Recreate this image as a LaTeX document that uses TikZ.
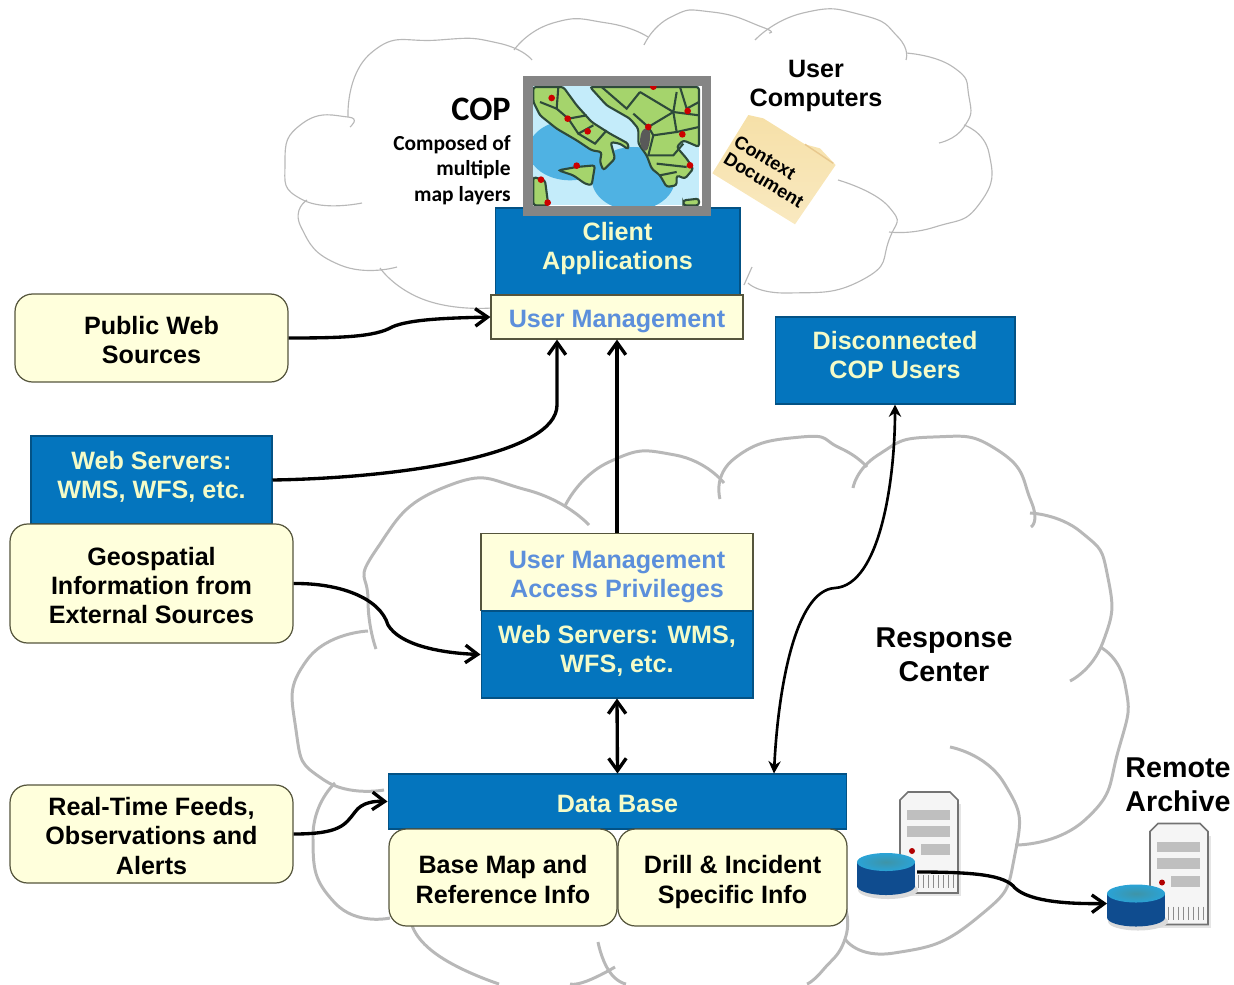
\documentclass[tikz,border=0pt]{standalone}
\usepackage{fontspec}
\setmainfont{Liberation Sans}
\newfontfamily\copfont{Carlito}
\usetikzlibrary{arrows.meta}
\definecolor{boxblue}{HTML}{0475BE}
\definecolor{boxcream}{HTML}{FFFFDC}
\definecolor{boxedge}{HTML}{55553C}
\definecolor{paleink}{HTML}{F4FBC8}
\definecolor{mgmtink}{HTML}{5C8FDB}
\definecolor{cloudgray}{HTML}{B8B8B8}
\definecolor{landgreen}{HTML}{A5D46C}
\definecolor{landedge}{HTML}{2E4A3A}
\definecolor{seapale}{HTML}{C4ECFA}
\definecolor{seadeep}{HTML}{4FB2E3}
\definecolor{folderfill}{HTML}{F6E0A8}
\definecolor{folderpale}{HTML}{F9E9C0}
\definecolor{diskbody}{HTML}{0F4C8F}
\definecolor{disktop}{HTML}{2AA3D6}
\definecolor{diskcore}{HTML}{3E94A8}
\pgfdeclareradialshading{seaglow}{\pgfpointorigin}{color(0bp)=(seadeep); color(25bp)=(seadeep); color(48bp)=(seapale); color(50bp)=(seapale)}
\newcommand{\lowstrut}{\rule[-3pt]{0pt}{18.5pt}}
\newcommand{\highstrut}{\rule[-6pt]{0pt}{16.6pt}}
\newcommand{\servertower}[3]{
    \begin{scope}[shift={(#2,#3)}]
        \fill[black!10] (904,804) rectangle (961,896);
        \draw[fill=black!4,draw=black!55,line width=0.9pt] (900,800) -- (908,792) -- (950,792) -- (958,800) -- (958,893) -- (900,893) -- cycle;
        \fill[black!25] (907,810) rectangle (950,820);
        \fill[black!25] (907,826) rectangle (950,837);
        \fill[black!25] (921,844) rectangle (950,855);
        \fill[red!70!black] (912,851) circle (3);
        \foreach \gx in {918,923,...,953} {
            \draw[black!45] (\gx,875) -- (\gx,888);
        }
        \fill[black!14] (888,890) ellipse (30 and 9);
        \fill[diskbody] (857,862) rectangle (915,886);
        \fill[diskbody] (886,886) ellipse (29 and 9);
        \shade[inner color=diskcore,outer color=disktop] (886,862) ellipse (29 and 9);
        \coordinate (#1) at (886,862);
    \end{scope}
}
\begin{document}
\begin{tikzpicture}[x=0.02cm,y=-0.02cm]
    \tikzset{mainfont/.style={font=\fontsize{14.3}{16.6}\selectfont\bfseries}}
    \tikzset{lowtext/.style={execute at begin node=\lowstrut,execute at end node=\lowstrut}}
    \tikzset{hightext/.style={execute at begin node=\highstrut,execute at end node=\highstrut}}
    \tikzset{bluebar/.style={draw=boxblue!70!black,fill=boxblue,text=paleink,mainfont,align=center,inner sep=0pt,line width=0.6pt}}
    \tikzset{bluebox/.style={bluebar,hightext}}
    \tikzset{mgmtbox/.style={draw=boxedge,fill=boxcream,text=mgmtink,mainfont,align=center,inner sep=0pt,line width=0.7pt,lowtext}}
    \tikzset{softbox/.style={draw=boxedge,fill=boxcream,text=black,mainfont,align=center,inner sep=0pt,line width=0.7pt,rounded corners=0.35cm,lowtext}}
    \tikzset{caption/.style={text=black,mainfont,align=center,inner sep=0pt}}
    \tikzset{copnote/.style={text=black,font=\copfont\fontsize{12.2}{14.5}\selectfont\bfseries,align=right,inner sep=0pt,anchor=east}}
    \tikzset{foldertext/.style={text=black,font=\fontsize{10.4}{11.3}\selectfont\bfseries,align=left,inner sep=0pt,rotate=-31}}
    \tikzset{flow/.style={draw=black,line width=1.9pt,-{Straight Barb[length=7pt,width=10pt]}}}
    \tikzset{slimflow/.style={draw=black,line width=1.5pt,{Stealth[length=7pt,width=7pt]}-{Stealth[length=7pt,width=7pt]}}}
    \tikzset{topcloud/.style={draw=cloudgray,line width=0.65pt}}
    \tikzset{lowcloud/.style={draw=cloudgray,line width=1.7pt}}
    \tikzset{borderline/.style={landedge,line width=1.2pt}}
    \tikzset{landpatch/.style={fill=landgreen,draw=landedge,line width=1.2pt,rounded corners=1.5pt}}
    \useasboundingbox (0,0) rectangle (1234,984);

    \draw[topcloud] plot[smooth,tension=1] coordinates {(491,308) (425,300) (380,268)};
    \draw[topcloud] plot[smooth,tension=1] coordinates {(397,267) (340,265) (301,227) (307,200)};
    \draw[topcloud] plot[smooth,tension=1] coordinates {(362,203) (303,200) (285,163) (303,123) (348,117) (350,127)};
    \draw[topcloud] plot[smooth,tension=1] coordinates {(348,117) (371,53) (439,40) (498,43) (532,60)};
    \draw[topcloud] plot[smooth,tension=1] coordinates {(514,50) (553,23) (607,23) (648,37)};
    \draw[topcloud] plot[smooth,tension=1] coordinates {(644,45) (671,17) (712,12) (762,27) (769,33)};
    \draw[topcloud] plot[smooth,tension=1] coordinates {(755,40) (803,13) (862,15) (898,37) (906,60)};
    \draw[topcloud] plot[smooth,tension=1] coordinates {(906,53) (953,67) (969,97) (964,127) (939,143)};
    \draw[topcloud] plot[smooth,tension=1] coordinates {(964,125) (989,153) (980,203) (935,227) (889,232)};
    \draw[topcloud] plot[smooth,tension=1] coordinates {(838,180) (889,207) (889,240) (862,280) (789,293) (748,283)};
    \draw[topcloud] (744,285) -- (752,267);
    \draw[topcloud] (541,285) -- (549,295);

    \draw[lowcloud] plot[smooth,tension=1] coordinates {(589,525) (527,490) (445,487) (376,550) (368,600) (376,649)};
    \draw[lowcloud] plot[smooth,tension=1] coordinates {(565,506) (609,462) (675,455) (724,483)};
    \draw[lowcloud] plot[smooth,tension=1] coordinates {(720,499) (735,458) (801,437) (840,448) (867,467)};
    \draw[lowcloud] plot[smooth,tension=1] coordinates {(853,488) (878,455) (933,437) (999,451) (1031,501) (1031,527)};
    \draw[lowcloud] plot[smooth,tension=1] coordinates {(1030,513) (1081,532) (1108,578) (1103,642) (1070,681)};
    \draw[lowcloud] plot[smooth,tension=1] coordinates {(1100,647) (1125,684) (1119,748) (1086,819) (1015,845)};
    \draw[lowcloud] plot[smooth,tension=1] coordinates {(950,747) (1004,783) (1015,854) (977,918) (894,953) (845,939)};
    \draw[lowcloud] plot[smooth,tension=1] coordinates {(845,907) (845,939) (823,970) (807,984)};
    \draw[lowcloud] plot[smooth,tension=1] coordinates {(598,942) (609,971) (626,984)};
    \draw[lowcloud] plot[smooth,tension=1] coordinates {(412,925) (439,956) (499,984)};
    \draw[lowcloud] plot[smooth,tension=1] coordinates {(615,967) (587,981) (570,984)};
    \draw[lowcloud] plot[smooth,tension=1] coordinates {(390,918) (335,903) (313,836) (335,783)};
    \draw[lowcloud] plot[smooth,tension=1] coordinates {(384,790) (324,780) (296,730) (307,660) (368,631)};

    \node[bluebox,minimum width=4.9cm,minimum height=1.74cm] (client) at (617.5,251.5) {Client\\Applications};
    \node[mgmtbox,minimum width=5.04cm,minimum height=0.88cm] (umgmt) at (617,317) {User Management};
    \node[bluebox,minimum width=4.8cm,minimum height=1.74cm] (discon) at (895,360.5) {Disconnected\\COP Users};
    \node[softbox,minimum width=5.46cm,minimum height=1.76cm] (pubweb) at (151.5,338) {\lowstrut Public Web\\Sources};
    \node[bluebox,minimum width=4.82cm,minimum height=1.76cm] (webleft) at (151.5,480) {Web Servers:\\WMS, WFS, etc.};
    \node[softbox,minimum width=5.66cm,minimum height=2.38cm] (geoinfo) at (151.5,583.5) {\lowstrut Geospatial\\Information from\\External Sources};
    \node[mgmtbox,minimum width=5.44cm,minimum height=1.54cm] (access) at (617,572) {\lowstrut User Management\\Access Privileges};
    \node[bluebox,minimum width=5.44cm,minimum height=1.74cm] (webmid) at (617,654.5) {Web Servers: WMS,\\WFS, etc.};
    \node[bluebar,lowtext,minimum width=9.18cm,minimum height=1.1cm] (dbase) at (617.5,801.5) {Data Base};
    \node[softbox,minimum width=4.56cm,minimum height=1.94cm] (basemap) at (503,877.5) {\lowstrut Base Map and\\Reference Info};
    \node[softbox,minimum width=4.58cm,minimum height=1.94cm] (drill) at (732.5,877.5) {\lowstrut Drill \& Incident\\Specific Info};
    \node[softbox,minimum width=5.66cm,minimum height=1.96cm] (feeds) at (151.5,834) {\lowstrut Real-Time Feeds,\\Observations and\\Alerts};

    \node[caption] (usercomp) at (816,86) {User\\Computers};
    \node[caption,font=\fontsize{16.3}{19.3}\selectfont\bfseries] (respcenter) at (944,654.5) {Response\\Center};
    \node[caption,font=\fontsize{16.3}{19.3}\selectfont\bfseries] (remote) at (1178,785) {Remote\\Archive};
    \node[copnote,font=\copfont\fontsize{19.5}{20}\selectfont\bfseries] (coptitle) at (511,109) {COP};
    \node[copnote] (copnote) at (511,170) {Composed of\\multiple\\map layers};

    \fill[seapale] (533,86) rectangle (699,205);
    \begin{scope}[shift={(520,72)},scale=0.3333]
        \begin{scope}
            \clip (40,42) rectangle (537,400);
            \shade[shading=seaglow] (150,235) ellipse (125 and 90);
            \shade[shading=seaglow] (340,320) ellipse (125 and 95);
        \end{scope}
        \filldraw[landpatch] (40,45) -- (130,45) -- (170,100) -- (215,150) -- (270,185) -- (325,215) -- (325,232) -- (300,215) -- (272,210) -- (285,260) -- (250,295) -- (240,270) -- (245,240) -- (215,235) -- (170,205) -- (110,170) -- (60,130) -- (40,90) -- cycle;
        \filldraw[landpatch] (115,295) -- (170,285) -- (225,280) -- (215,340) -- (195,335) -- (160,310) -- cycle;
        \filldraw[landpatch] (210,45) -- (537,45) -- (537,225) -- (490,205) -- (470,225) -- (500,260) -- (520,290) -- (495,320) -- (470,310) -- (470,340) -- (440,345) -- (420,310) -- (395,290) -- (380,250) -- (355,215) -- (355,170) -- (330,140) -- (260,100) -- cycle;
        \filldraw[landpatch] (40,315) -- (75,325) -- (85,400) -- (40,400) -- cycle;
        \filldraw[landpatch] (490,385) -- (537,380) -- (537,400) -- (490,400) -- cycle;
        \draw[borderline] (115,45) -- (110,110) -- (145,140) -- (200,130);
        \draw[borderline] (60,90) -- (110,110);
        \draw[borderline] (145,140) -- (175,185) -- (220,160);
        \draw[borderline] (175,185) -- (225,215) -- (260,175);
        \draw[borderline] (245,45) -- (320,110) -- (360,60);
        \draw[borderline] (340,125) -- (385,165) -- (460,120) -- (537,130);
        \draw[borderline] (360,60) -- (460,120) -- (470,60);
        \draw[borderline] (385,165) -- (400,190) -- (470,180) -- (460,120);
        \draw[borderline] (470,180) -- (537,165);
        \draw[borderline] (400,190) -- (385,250) -- (460,250) -- (490,215);
        \draw[borderline] (410,275) -- (500,285);
        \draw[borderline] (420,310) -- (470,300);
        \draw[borderline] (480,45) -- (500,110) -- (537,90);
        \fill[black!65] plot[smooth cycle,tension=0.7] coordinates {(365,180) (385,170) (390,200) (380,235) (362,220)};
        \foreach \dotx/\doty in {95/78,143/140,203/178,170/281,63/323,83/392,400/44,503/117,385/165,487/187,510/280} {
            \fill[red!80!black] (\dotx,\doty) circle (10);
        }
    \end{scope}
    \draw[black!48,line width=5.6pt] (528,81) rectangle (706.5,211);

    \begin{scope}[shift={(705,105)},scale=0.3333]
        \shade[top color=folderfill,bottom color=folderpale] (130,30) -- (175,40) -- (300,118) -- (345,130) -- (392,180) -- (270,358) -- (22,205) -- cycle;
        \draw[folderfill!75!brown,line width=0.8pt] (300,118) -- (385,175);
    \end{scope}
    \node[foldertext] (foldertag) at (769,171.4) {Context\\Document};

    \servertower{disklocal}{0}{0}
    \servertower{diskremote}{250}{31.5}

    \draw[flow] (pubweb.east) .. controls (340,338) and (375,337) .. (392,327) .. controls (410,319) and (450,318) .. (umgmt.west);
    \draw[flow] (webleft.east) .. controls (400,478) and (557,455) .. (557,405) -- ([xshift=-1.2cm]umgmt.south);
    \draw[flow] (access.north) -- (umgmt.south);
    \draw[flow] (geoinfo.east) .. controls (340,583) and (380,598) .. (388,625) .. controls (400,645) and (440,653) .. (webmid.west);
    \draw[flow,{Straight Barb[length=7pt,width=10pt]}-{Straight Barb[length=7pt,width=10pt]}] (webmid.south) -- (dbase.north);
    \draw[slimflow] ([xshift=3.13cm]dbase.north) .. controls (778,690) and (795,590) .. (835,588) .. controls (880,585) and (895,480) .. (discon.south);
    \draw[flow] (feeds.east) .. controls (340,834) and (345,825) .. (355,812) .. controls (362,802) and (375,801) .. (dbase.west);
    \draw[flow] ([xshift=0.62cm,yshift=-0.2cm]disklocal) .. controls (975,872) and (1005,875) .. (1015,888) .. controls (1030,902) and (1070,904) .. ([xshift=-0.58cm,yshift=-0.2cm]diskremote);
\end{tikzpicture}
\end{document}
